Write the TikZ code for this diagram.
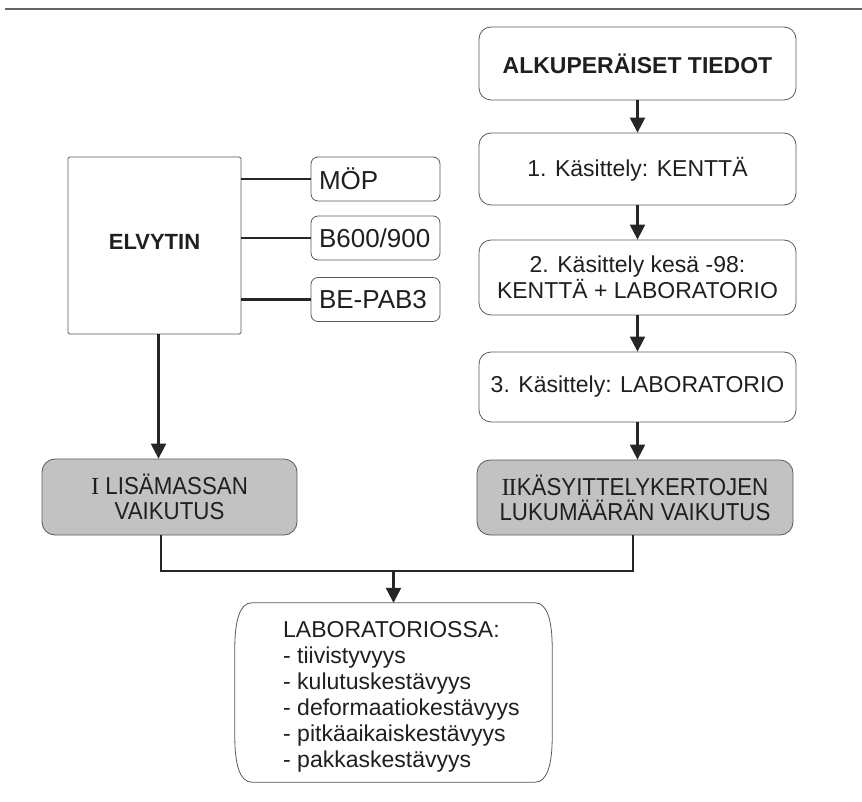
\documentclass[tikz,border=0pt]{standalone}
\usepackage{fontspec}
\setmainfont{Liberation Sans}
\newfontfamily\narrowsans[FakeStretch=0.91]{Liberation Sans}
\newfontfamily\numfont{Liberation Serif}
\usetikzlibrary{arrows.meta}
\begin{document}
\begin{tikzpicture}[x=1pt,y=-1pt,
  box/.style={draw=black!65, line width=0.8pt, text=black!88, inner sep=0pt, align=center},
  rbox/.style={box, rounded corners=12pt, minimum width=317pt, font=\fontsize{23}{26}\selectfont},
  sbox/.style={box, rounded corners=7pt, minimum width=129pt, minimum height=44pt, text width=113pt, align=left, inner xsep=8pt, font=\fontsize{26}{28}\selectfont},
  gbox/.style={box, rounded corners=13pt, fill=black!24, font=\narrowsans\fontsize{24.5}{25}\selectfont},
  conn/.style={draw=black!85, line width=2.3pt},
  arr/.style={conn, -{Triangle[length=15pt,width=15pt]}},
  outl/.style={draw=black!65, line width=0.8pt}
]
\useasboundingbox (0,0) rectangle (862,802);
\draw[black!60, line width=1.2pt] (5,9) -- (862,9);

\node[rbox, minimum height=73pt, font=\bfseries\fontsize{23}{26}\selectfont] (alk) at (637.5,63.5) {ALKUPERÄISET TIEDOT};
\node[rbox, minimum height=72pt] (k1) at (637.5,169) {1. Käsittely: KENTTÄ};
\node[rbox, minimum height=75pt] (k2) at (637.5,277.5) {2. Käsittely kesä -98:\\KENTTÄ + LABORATORIO};
\node[rbox, minimum height=70pt] (k3) at (637.5,387) {3. Käsittely: LABORATORIO};
\node[gbox, minimum width=316pt, minimum height=75pt] (g2) at (635,497.5) {{\numfont I\kern-1.2pt I}KÄSYITTELYKERTOJEN\\LUKUMÄÄRÄN VAIKUTUS};

\node[box, minimum width=173pt, minimum height=177pt, rounded corners=1.5pt, font=\bfseries\fontsize{22}{26}\selectfont] (elv) at (154.5,245.5) {\raisebox{7pt}{ELVYTIN}};
\node[sbox] (mop) at (375.5,179) {MÖP};
\node[sbox] (b69) at (375.5,238) {B600/900};
\node[sbox] (bep) at (375.5,299.5) {BE-PAB3};
\node[gbox, minimum width=255pt, minimum height=76pt] (g1) at (169.5,497) {{\numfont I} LISÄMASSAN\\VAIKUTUS};

\node[minimum width=317pt, minimum height=179pt, inner sep=0pt] (lab) at (393.5,692.5) {};
\draw[outl] ([xshift=17pt]lab.north west) -- ([xshift=-17pt]lab.north east)
  .. controls ([xshift=-5pt]lab.north east) and ([yshift=-18pt]lab.north east) .. ([yshift=-45pt]lab.north east)
  -- ([yshift=45pt]lab.south east)
  .. controls ([yshift=18pt]lab.south east) and ([xshift=-5pt]lab.south east) .. ([xshift=-17pt]lab.south east)
  -- ([xshift=17pt]lab.south west)
  .. controls ([xshift=5pt]lab.south west) and ([yshift=18pt]lab.south west) .. ([yshift=45pt]lab.south west)
  -- ([yshift=-45pt]lab.north west)
  .. controls ([yshift=-18pt]lab.north west) and ([xshift=5pt]lab.north west) .. ([xshift=17pt]lab.north west) -- cycle;
\node[anchor=west, align=left, inner sep=0pt, text=black!88, font=\fontsize{23}{26}\selectfont] (labtxt) at ([xshift=-110.5pt, yshift=-4.5pt]lab.center) {LABORATORIOSSA:\\- tiivistyvyys\\- kulutuskestävyys\\- deformaatiokestävyys\\- pitkäaikaiskestävyys\\- pakkaskestävyys};

\draw[arr] (alk.south) -- (k1.north);
\draw[arr] (k1.south) -- (k2.north);
\draw[arr] (k2.south) -- (k3.north);
\draw[arr] (k3.south) -- (k3.south |- g2.north);
\draw[conn] (mop.west) -- (mop.west -| elv.east);
\draw[conn] (b69.west) -- (b69.west -| elv.east);
\draw[conn] (bep.west) -- (bep.west -| elv.east);
\draw[arr] ([xshift=4pt]elv.south) -- ([xshift=4pt]elv.south |- g1.north);
\coordinate (jn) at (393.5,571);
\draw[conn] ([xshift=-8.5pt]g1.south) |- (jn) -| ([xshift=-2pt]g2.south);
\draw[arr] (jn) -- (lab.north);
\end{tikzpicture}
\end{document}
